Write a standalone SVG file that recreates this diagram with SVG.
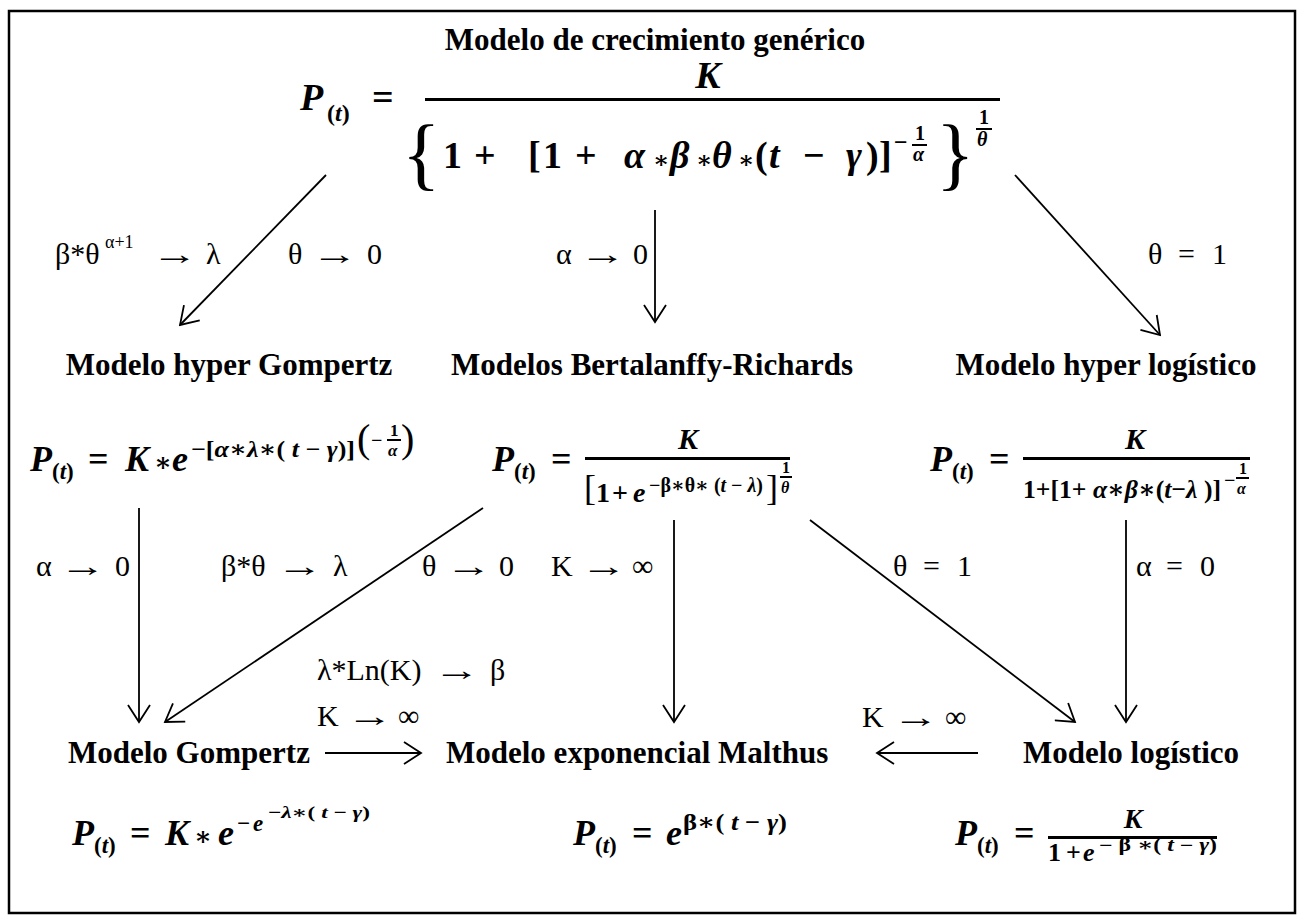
<svg xmlns="http://www.w3.org/2000/svg" width="1303" height="918" viewBox="0 0 1303 918">
<style>
text{font-family:'Liberation Serif','DejaVu Serif',serif;fill:#000}
.h{font-weight:bold;font-size:31px}
.l{font-size:30px}
.a{font-size:30px}
.m{font-weight:bold}
.i{font-style:italic}
.br{font-weight:normal}
.c{stroke:#000;stroke-width:1.8;fill:none;marker-end:url(#ah)}
</style>
<defs>
<marker id="ah" viewBox="0 0 20 24" refX="18" refY="12" markerWidth="20" markerHeight="24" markerUnits="userSpaceOnUse" orient="auto">
<path d="M1,1 L18,12 L1,23" fill="none" stroke="#000" stroke-width="1.8"/>
</marker>
</defs>
<rect x="9" y="11" width="1286" height="902" fill="#fff" stroke="#000" stroke-width="2.5"/>

<g id="connectors">
<line class="c" x1="326" y1="175" x2="180" y2="325"/>
<line class="c" x1="655" y1="210" x2="655" y2="322"/>
<line class="c" x1="1015" y1="175" x2="1160" y2="335"/>
<line class="c" x1="139" y1="508" x2="139" y2="722"/>
<line class="c" x1="483" y1="508" x2="165" y2="722"/>
<line class="c" x1="674" y1="520" x2="674" y2="722"/>
<line class="c" x1="810" y1="520" x2="1075" y2="722"/>
<line class="c" x1="1126" y1="520" x2="1126" y2="722"/>
<line class="c" x1="325" y1="753" x2="421" y2="753"/>
<line class="c" x1="978" y1="753" x2="877" y2="753"/>
</g>

<g id="labels">
<text class="l" y="264"><tspan x="55">β*θ</tspan><tspan x="105" y="248" font-size="18">α+1</tspan><tspan x="206" y="264">λ</tspan></text>
<text class="a" transform="translate(151.5,264) scale(1.55,1)">→</text>
<text class="l" y="264"><tspan x="288">θ</tspan><tspan x="367">0</tspan></text>
<text class="a" transform="translate(311.5,264) scale(1.55,1)">→</text>
<text class="l" y="264"><tspan x="556">α</tspan><tspan x="633">0</tspan></text>
<text class="a" transform="translate(579.5,264) scale(1.55,1)">→</text>
<text class="l" y="264"><tspan x="1148">θ</tspan><tspan x="1178">=</tspan><tspan x="1212">1</tspan></text>
<text class="l" y="576"><tspan x="36">α</tspan><tspan x="115">0</tspan></text>
<text class="a" transform="translate(59.5,576) scale(1.55,1)">→</text>
<text class="l" y="576"><tspan x="221">β*θ</tspan><tspan x="333">λ</tspan></text>
<text class="a" transform="translate(276.5,576) scale(1.55,1)">→</text>
<text class="l" y="576"><tspan x="422">θ</tspan><tspan x="499">0</tspan></text>
<text class="a" transform="translate(445.5,576) scale(1.55,1)">→</text>
<text class="l" y="576"><tspan x="551">K</tspan><tspan x="632">∞</tspan></text>
<text class="a" transform="translate(580.5,576) scale(1.55,1)">→</text>
<text class="l" y="576"><tspan x="893">θ</tspan><tspan x="923">=</tspan><tspan x="957">1</tspan></text>
<text class="l" y="576"><tspan x="1136">α</tspan><tspan x="1166">=</tspan><tspan x="1200">0</tspan></text>
<text class="l" y="680"><tspan x="317">λ*Ln(K)</tspan><tspan x="490">β</tspan></text>
<text class="a" transform="translate(433.5,680) scale(1.55,1)">→</text>
<text class="l" y="726"><tspan x="317">K</tspan><tspan x="398">∞</tspan></text>
<text class="a" transform="translate(346.5,726) scale(1.55,1)">→</text>
<text class="l" y="727"><tspan x="862">K</tspan><tspan x="945">∞</tspan></text>
<text class="a" transform="translate(892.5,727) scale(1.55,1)">→</text>
</g>

<g id="generic">
<text class="h" x="655" y="50" text-anchor="middle">Modelo de crecimiento genérico</text>
<text class="m" font-size="38"><tspan class="i" x="300" y="110">P</tspan><tspan x="327" y="121" font-size="24">(</tspan><tspan class="i" font-size="24">t</tspan><tspan font-size="24">)</tspan><tspan x="372" y="110">=</tspan></text>
<text class="m i" font-size="38" x="708" y="88" text-anchor="middle">K</text>
<rect x="425" y="98" width="575" height="3"/>
<text class="br" font-size="80" x="402" y="180">{</text>
<text class="m" font-size="38" y="168"><tspan x="443">1</tspan><tspan x="474">+</tspan><tspan x="528">[</tspan><tspan x="543">1</tspan><tspan x="575">+</tspan><tspan class="i" x="624">α</tspan><tspan x="653" font-size="24">∗</tspan><tspan class="i" x="670">β</tspan><tspan x="696" font-size="24">∗</tspan><tspan class="i" x="712">θ</tspan><tspan x="738" font-size="24">∗</tspan><tspan x="755">(</tspan><tspan class="i" x="769">t</tspan><tspan x="803">−</tspan><tspan class="i" x="846">γ</tspan><tspan x="866">)</tspan><tspan x="879">]</tspan></text>
<text class="m" font-size="24" x="894" y="150">−</text>
<text class="m" font-size="20" x="915" y="140">1</text>
<rect x="912" y="144" width="15" height="2"/>
<text class="m i" font-size="20" x="913" y="161">α</text>
<text class="br" font-size="80" x="936" y="180">}</text>
<text class="m" font-size="20" x="979" y="124">1</text>
<rect x="976" y="128" width="16" height="2"/>
<text class="m i" font-size="20" x="977" y="146">θ</text>
</g>

<g id="hyper-gompertz">
<text class="h" x="229" y="375" text-anchor="middle">Modelo hyper Gompertz</text>
<text class="m" font-size="36"><tspan class="i" x="30" y="471">P</tspan><tspan x="52" y="479" font-size="23">(</tspan><tspan class="i" font-size="23">t</tspan><tspan font-size="23">)</tspan><tspan x="88" y="471">=</tspan><tspan class="i" x="125">K</tspan><tspan x="154" font-size="26">∗</tspan><tspan class="i" x="172">e</tspan></text>
<text class="m" font-size="23" y="457" x="191" textLength="164" lengthAdjust="spacingAndGlyphs">−[<tspan class="i">α</tspan>∗<tspan class="i">λ</tspan>∗( <tspan class="i">t</tspan> − <tspan class="i">γ</tspan>)]</text>
<text class="br" font-size="40" x="357" y="452">(</text>
<text class="m" font-size="20" x="371" y="447">−</text>
<text class="m" font-size="17" x="390" y="436">1</text>
<rect x="387" y="439" width="14" height="2"/>
<text class="m i" font-size="17" x="388" y="456">α</text>
<text class="br" font-size="40" x="401" y="452">)</text>
</g>

<g id="bertalanffy">
<text class="h" x="652" y="375" text-anchor="middle">Modelos Bertalanffy-Richards</text>
<text class="m" font-size="36"><tspan class="i" x="492" y="471">P</tspan><tspan x="514" y="479" font-size="23">(</tspan><tspan class="i" font-size="23">t</tspan><tspan font-size="23">)</tspan><tspan x="551" y="471">=</tspan></text>
<text class="m i" font-size="30" x="688" y="449" text-anchor="middle">K</text>
<rect x="585" y="457" width="205" height="3"/>
<text class="br" font-size="36" x="584" y="500">[</text>
<text class="m" font-size="28" y="502"><tspan x="596">1</tspan><tspan x="612">+</tspan><tspan class="i" x="633">e</tspan></text>
<text class="m" font-size="20" y="492" x="649" textLength="114" lengthAdjust="spacingAndGlyphs">−β∗θ∗ (<tspan class="i">t</tspan> − <tspan class="i">λ</tspan>)</text>
<text class="br" font-size="36" x="766" y="500">]</text>
<text class="m" font-size="16" x="782" y="473">1</text>
<rect x="780" y="476" width="12" height="2"/>
<text class="m i" font-size="16" x="781" y="493">θ</text>
</g>

<g id="hyper-logistico">
<text class="h" x="1106" y="375" text-anchor="middle">Modelo hyper logístico</text>
<text class="m" font-size="36"><tspan class="i" x="930" y="471">P</tspan><tspan x="952" y="479" font-size="23">(</tspan><tspan class="i" font-size="23">t</tspan><tspan font-size="23">)</tspan><tspan x="989" y="471">=</tspan></text>
<text class="m i" font-size="30" x="1135" y="449" text-anchor="middle">K</text>
<rect x="1023" y="457" width="227" height="3"/>
<text class="m" font-size="26" y="498" x="1023" textLength="198" lengthAdjust="spacingAndGlyphs">1+[1+ <tspan class="i">α</tspan>∗<tspan class="i">β</tspan>∗(<tspan class="i">t</tspan>−<tspan class="i">λ</tspan> )]</text>
<text class="m" font-size="20" x="1224" y="487">−</text>
<text class="m" font-size="16" x="1239" y="474">1</text>
<rect x="1236" y="477" width="13" height="2"/>
<text class="m i" font-size="16" x="1237" y="494">α</text>
</g>

<g id="gompertz">
<text class="h" x="68" y="763">Modelo Gompertz</text>
<text class="m" font-size="36"><tspan class="i" x="72" y="845">P</tspan><tspan x="94" y="853" font-size="23">(</tspan><tspan class="i" font-size="23">t</tspan><tspan font-size="23">)</tspan><tspan x="130" y="845">=</tspan><tspan class="i" x="165">K</tspan><tspan x="194" font-size="26">∗</tspan><tspan class="i" x="218">e</tspan></text>
<text class="m" font-size="23" y="831"><tspan x="237">−</tspan><tspan class="i" x="253">e</tspan></text>
<text class="m" font-size="17" y="818" x="268" textLength="102" lengthAdjust="spacingAndGlyphs">−<tspan class="i">λ</tspan>∗( <tspan class="i">t</tspan> − <tspan class="i">γ</tspan>)</text>
</g>

<g id="malthus">
<text class="h" x="446" y="763">Modelo exponencial Malthus</text>
<text class="m" font-size="36"><tspan class="i" x="573" y="845">P</tspan><tspan x="595" y="853" font-size="23">(</tspan><tspan class="i" font-size="23">t</tspan><tspan font-size="23">)</tspan><tspan x="632" y="845">=</tspan><tspan class="i" x="666">e</tspan></text>
<text class="m" font-size="24" y="830" x="683" textLength="104" lengthAdjust="spacingAndGlyphs">β∗( <tspan class="i">t</tspan> − <tspan class="i">γ</tspan>)</text>
</g>

<g id="logistico">
<text class="h" x="1023" y="763">Modelo logístico</text>
<text class="m" font-size="36"><tspan class="i" x="955" y="845">P</tspan><tspan x="977" y="853" font-size="23">(</tspan><tspan class="i" font-size="23">t</tspan><tspan font-size="23">)</tspan><tspan x="1014" y="845">=</tspan></text>
<text class="m i" font-size="28" x="1133" y="828" text-anchor="middle">K</text>
<rect x="1048" y="836" width="169" height="3"/>
<text class="m" font-size="26" y="861"><tspan x="1048">1</tspan><tspan x="1066">+</tspan><tspan class="i" x="1083">e</tspan></text>
<text class="m" font-size="18" y="851" x="1099" textLength="118" lengthAdjust="spacingAndGlyphs">− β ∗( <tspan class="i">t</tspan> − <tspan class="i">γ</tspan>)</text>
</g>
</svg>
